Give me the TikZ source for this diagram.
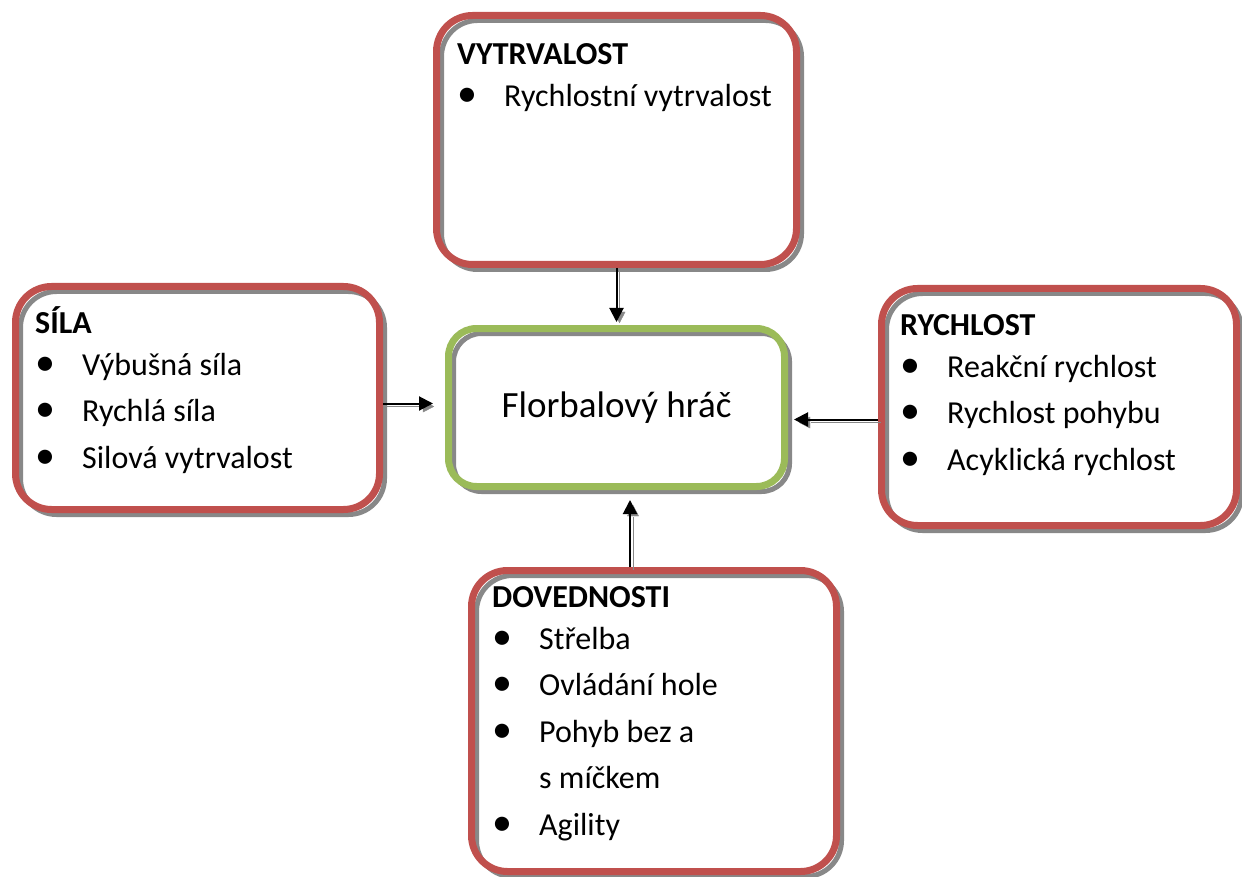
\documentclass[tikz,border=0pt]{standalone}
\usepackage{fontspec}
\setmainfont{Carlito}
\usepackage{tikz}
\usetikzlibrary{arrows.meta,calc}

\definecolor{boxred}{HTML}{C0504D}
\definecolor{boxgreen}{HTML}{9BBB59}
\definecolor{shadowgray}{HTML}{888888}

\newcommand{\pol}[1]{\makebox[47pt][l]{\scalebox{1.25}{\textbullet}}#1}

\begin{document}
\begin{tikzpicture}[x=1pt,y=-1pt,
  box/.style={draw=boxred,line width=7pt,rounded corners=36pt,inner sep=0pt,
    preaction={draw=shadowgray,line width=5pt,transform canvas={shift={(5pt,-5pt)}}}},
  txt/.style={anchor=base west,align=left,inner sep=0pt,
    font=\fontsize{32}{46.5}\selectfont},
  link/.style={line width=2pt,-{Triangle[length=14pt,width=14pt]},
    preaction={draw=shadowgray,transform canvas={shift={(3pt,-3pt)}}}}]
\useasboundingbox (0,0) rectangle (1242,877);
\node[box,minimum width=360,minimum height=249] (vytr) at (616.5,140) {};
\node[box,minimum width=364,minimum height=223] (sila) at (197.5,398) {};
\node[box,minimum width=355,minimum height=237] (rych) at (1059,407) {};
\node[box,minimum width=365,minimum height=301] (dov) at (654,721) {};
\node[box,draw=boxgreen,rounded corners=28pt,minimum width=336,minimum height=158,
  font=\fontsize{37}{40}\selectfont] (hrac) at (616.5,407.5) {Florbalový hráč};
% texty, kotva = posledni radek
\node[txt] (vytrtext) at (457,107) {\textbf{VYTRVALOST}\\[-4.5pt]
  \pol{Rychlostní vytrvalost}};
\node[txt] (silatext) at (35,468) {\textbf{SÍLA}\\[-4.5pt]
  \pol{Výbušná síla}\\ \pol{Rychlá síla}\\ \pol{Silová vytrvalost}};
\node[txt] (rychtext) at (900,470) {\textbf{RYCHLOST}\\[-4.5pt]
  \pol{Reakční rychlost}\\ \pol{Rychlost pohybu}\\ \pol{Acyklická rychlost}};
\node[txt] (dovtext) at (492,835) {\textbf{DOVEDNOSTI}\\[-4.5pt]
  \pol{Střelba}\\ \pol{Ovládání hole}\\ \pol{Pohyb bez a}\\
  \hspace*{47pt}s míčkem\\ \pol{Agility}};
% sipky do stredu
\draw[link,shorten >=3pt] (vytr.south) -- (hrac.north);
\draw[link,shorten >=12pt] ([yshift=4pt]hrac.west -| sila.east) -- ([yshift=4pt]hrac.west);
\draw[link,shorten >=6pt] ([yshift=-12pt]hrac.east -| rych.west) -- ([yshift=-12pt]hrac.east);
\draw[link,shorten >=10pt] ([xshift=13.5pt]hrac.south |- dov.north) -- ([xshift=13.5pt]hrac.south);
\end{tikzpicture}
\end{document}
